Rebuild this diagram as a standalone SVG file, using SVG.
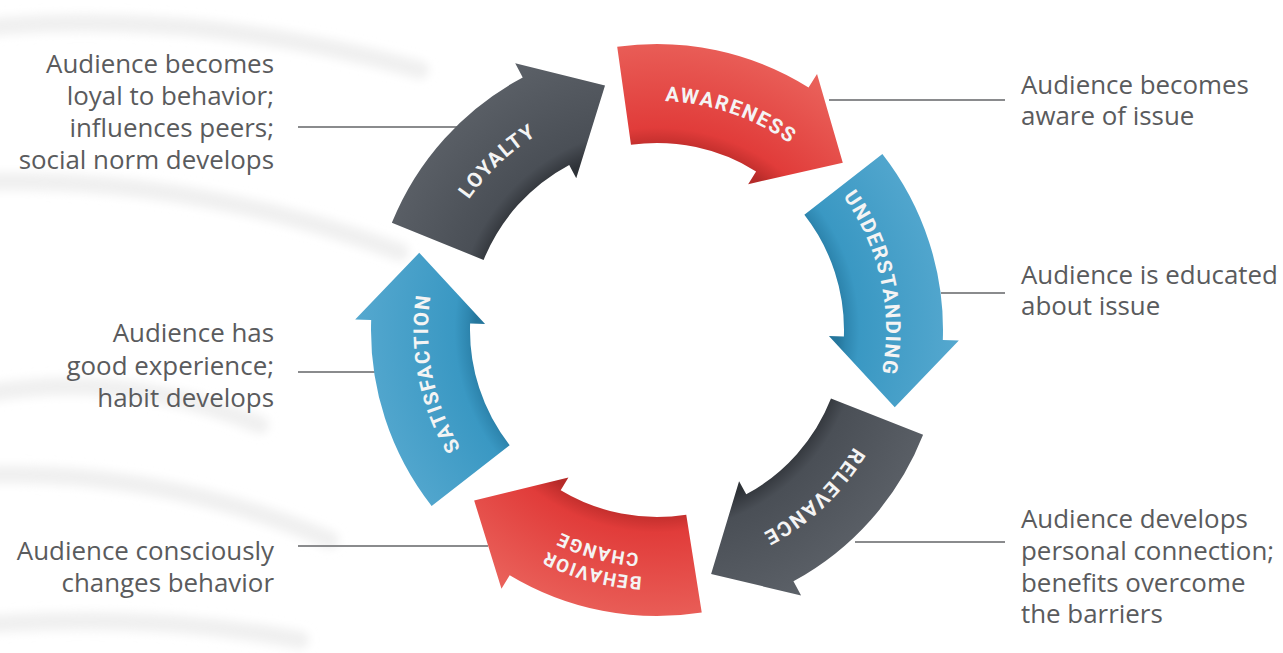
<svg xmlns="http://www.w3.org/2000/svg" xmlns:xlink="http://www.w3.org/1999/xlink" width="1283" height="653" viewBox="0 0 1283 653">
  <style>
    .desc { font-family: "Open Sans", "Liberation Sans", sans-serif; font-size: 25.9px; fill: #5a5b5d; }
    .lbl { font-family: Roboto, "Liberation Sans", sans-serif; font-weight: 700; font-size: 20.5px; letter-spacing: 1.6px; fill: #f4f4f4; }
    .lbl2 { font-family: Roboto, "Liberation Sans", sans-serif; font-weight: 700; font-size: 18.5px; letter-spacing: 1.3px; fill: #f4f4f4; }
    .lead { stroke: #8a8b8d; stroke-width: 2; fill: none; }
    .swoosh { stroke: #f0f0f0; stroke-width: 18; fill: none; stroke-linecap: round; }
  </style>
  <defs>
    <filter id="blur" x="-20%" y="-50%" width="140%" height="200%">
      <feGaussianBlur stdDeviation="5"/>
    </filter>
    <radialGradient id="gRed" gradientUnits="userSpaceOnUse" cx="0" cy="0" r="302">
      <stop offset="0.6" stop-color="#b52b29"/>
      <stop offset="0.625" stop-color="#c8312f"/>
      <stop offset="0.67" stop-color="#e13c3a"/>
      <stop offset="1" stop-color="#ea635c"/>
    </radialGradient>
    <radialGradient id="gBlue" gradientUnits="userSpaceOnUse" cx="0" cy="0" r="302">
      <stop offset="0.6" stop-color="#25769c"/>
      <stop offset="0.625" stop-color="#2e86af"/>
      <stop offset="0.67" stop-color="#3a98c3"/>
      <stop offset="1" stop-color="#55a8cf"/>
    </radialGradient>
    <radialGradient id="gGray" gradientUnits="userSpaceOnUse" cx="0" cy="0" r="302">
      <stop offset="0.6" stop-color="#2e3237"/>
      <stop offset="0.625" stop-color="#383c42"/>
      <stop offset="0.67" stop-color="#4a4f56"/>
      <stop offset="1" stop-color="#5c6168"/>
    </radialGradient>
    <path id="arrowShape" d="M286,0 A286,286 0 0 1 219.08,183.84 L231.35,194.12 L139.80,207.26 L131.76,110.56 L143.25,120.20 A187,187 0 0 0 187,0 Z"/>
    <path id="arcMid" d="M229,0 A229,229 0 0 1 128.06,189.84"/>
    <path id="arcOut" d="M247,0 A247,247 0 0 1 138.12,204.76"/>
    <path id="arcIn" d="M224,0 A224,224 0 0 1 125.26,185.70"/>
  </defs>

  <rect x="0" y="0" width="1283" height="653" fill="#ffffff"/>

  <g id="background" filter="url(#blur)">
    <path class="swoosh" d="M-20,28 Q200,8 420,70"/>
    <path class="swoosh" d="M-20,182 Q190,175 400,252"/>
    <path class="swoosh" d="M-20,395 Q120,368 260,425"/>
    <path class="swoosh" d="M-20,475 Q160,468 330,540"/>
    <path class="swoosh" d="M-20,625 Q150,612 300,640"/>
  </g>

  <g id="connectors">
    <line class="lead" x1="298" y1="127" x2="457" y2="127"/>
    <line class="lead" x1="298" y1="372" x2="375" y2="372"/>
    <line class="lead" x1="298" y1="546" x2="488" y2="546"/>
    <line class="lead" x1="829" y1="100" x2="1005" y2="100"/>
    <line class="lead" x1="941" y1="293" x2="1005" y2="293"/>
    <line class="lead" x1="855" y1="542" x2="1005" y2="542"/>
  </g>

  <g id="node-awareness" transform="translate(657,330) rotate(262)">
    <use href="#arrowShape" fill="url(#gRed)"/>
    <text class="lbl"><textPath href="#arcMid" startOffset="48%" text-anchor="middle">AWARENESS</textPath></text>
  </g>
  <g id="node-understanding" transform="translate(657,330) rotate(322)">
    <use href="#arrowShape" fill="url(#gBlue)"/>
    <text class="lbl"><textPath href="#arcMid" startOffset="46%" text-anchor="middle">UNDERSTANDING</textPath></text>
  </g>
  <g id="node-relevance" transform="translate(657,330) rotate(21.5)">
    <use href="#arrowShape" fill="url(#gGray)"/>
    <text class="lbl"><textPath href="#arcMid" startOffset="45%" text-anchor="middle">RELEVANCE</textPath></text>
  </g>
  <g id="node-behavior-change" transform="translate(657,330) rotate(81)">
    <use href="#arrowShape" fill="url(#gRed)"/>
    <text class="lbl2"><textPath href="#arcOut" startOffset="43%" text-anchor="middle">BEHAVIOR</textPath></text>
    <text class="lbl2"><textPath href="#arcIn" startOffset="43%" text-anchor="middle">CHANGE</textPath></text>
  </g>
  <g id="node-satisfaction" transform="translate(657,330) rotate(142)">
    <use href="#arrowShape" fill="url(#gBlue)"/>
    <text class="lbl"><textPath href="#arcMid" startOffset="48%" text-anchor="middle">SATISFACTION</textPath></text>
  </g>
  <g id="node-loyalty" transform="translate(657,330) rotate(202)">
    <use href="#arrowShape" fill="url(#gGray)"/>
    <text class="lbl"><textPath href="#arcMid" startOffset="44%" text-anchor="middle">LOYALTY</textPath></text>
  </g>

  <g id="desc-loyalty">
    <text class="desc" text-anchor="end" x="274" y="73">Audience becomes</text>
    <text class="desc" text-anchor="end" x="274" y="105">loyal to behavior;</text>
    <text class="desc" text-anchor="end" x="274" y="137">influences peers;</text>
    <text class="desc" text-anchor="end" x="274" y="169">social norm develops</text>
  </g>
  <g id="desc-satisfaction">
    <text class="desc" text-anchor="end" x="274" y="342">Audience has</text>
    <text class="desc" text-anchor="end" x="274" y="375">good experience;</text>
    <text class="desc" text-anchor="end" x="274" y="407">habit develops</text>
  </g>
  <g id="desc-behavior-change">
    <text class="desc" text-anchor="end" x="274" y="560">Audience consciously</text>
    <text class="desc" text-anchor="end" x="274" y="592">changes behavior</text>
  </g>
  <g id="desc-awareness">
    <text class="desc" x="1021" y="94">Audience becomes</text>
    <text class="desc" x="1021" y="125">aware of issue</text>
  </g>
  <g id="desc-understanding">
    <text class="desc" x="1021" y="284">Audience is educated</text>
    <text class="desc" x="1021" y="315">about issue</text>
  </g>
  <g id="desc-relevance">
    <text class="desc" x="1021" y="528">Audience develops</text>
    <text class="desc" x="1021" y="560">personal connection;</text>
    <text class="desc" x="1021" y="592">benefits overcome</text>
    <text class="desc" x="1021" y="623">the barriers</text>
  </g>
</svg>
